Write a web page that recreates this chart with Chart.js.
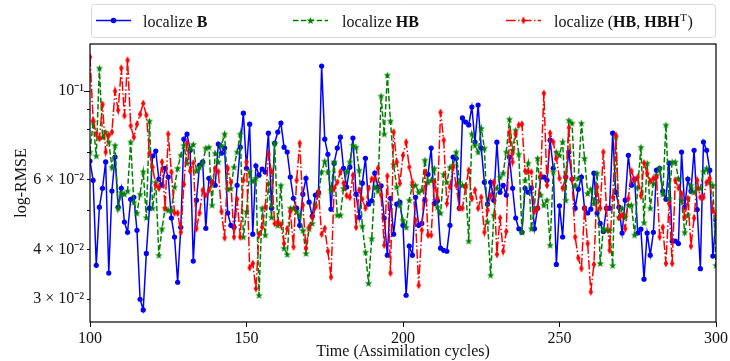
<!DOCTYPE html>
<html>
<head>
<meta charset="utf-8">
<script src="https://cdn.jsdelivr.net/npm/chart.js@4.4.1/dist/chart.umd.min.js"></script>
<style>
  html, body { margin: 0; padding: 0; background: #fff; }
  canvas { display: block; }
</style>
</head>
<body>
<canvas id="rmse-chart" width="730" height="361"></canvas>
<script>
// ── DATA (log-RMSE per assimilation cycle) ───────────────────────────
const FIRST_CYCLE = 100;

const locB = [
  0.0667, 0.0597, 0.0365, 0.0511, 0.0570, 0.0664, 0.0349, 0.0561, 0.0683, 0.0511,
  0.0570, 0.0469, 0.0442, 0.0535, 0.0541, 0.0447, 0.0300, 0.0282, 0.0391, 0.0508,
  0.0687, 0.0707, 0.0601, 0.0580, 0.0640, 0.0608, 0.0480, 0.0430, 0.0331, 0.0455,
  0.0757, 0.0780, 0.0710, 0.0374, 0.0532, 0.0652, 0.0664, 0.0452, 0.0604, 0.0590,
  0.0580, 0.0736, 0.0698, 0.0719, 0.0494, 0.0460, 0.0455, 0.0580, 0.0723, 0.0880,
  0.0640, 0.0826, 0.0437, 0.0649, 0.0615, 0.0637, 0.0626, 0.0784, 0.0508, 0.0740,
  0.0789, 0.0831, 0.0723, 0.0703, 0.0608, 0.0538, 0.0508, 0.0460, 0.0551, 0.0604,
  0.0526, 0.0485, 0.0548, 0.0557, 0.1156, 0.0757, 0.0694, 0.0505, 0.0659, 0.0719,
  0.0766, 0.0640, 0.0574, 0.0644, 0.0762, 0.0551, 0.0482, 0.0587, 0.0678, 0.0520,
  0.0530, 0.0622, 0.0574, 0.0578, 0.0480, 0.0387, 0.0538, 0.0437, 0.0520, 0.0526,
  0.0460, 0.0307, 0.0408, 0.0387, 0.0541, 0.0460, 0.0465, 0.0532, 0.0618, 0.0719,
  0.0522, 0.0530, 0.0403, 0.0398, 0.0396, 0.0460, 0.0683, 0.0678, 0.0508, 0.0856,
  0.0836, 0.0822, 0.0912, 0.0745, 0.0922, 0.0719, 0.0590, 0.0520, 0.0590, 0.0532,
  0.0744, 0.0557, 0.0580, 0.0548, 0.0683, 0.0570, 0.0480, 0.0451, 0.0442, 0.0570,
  0.0557, 0.0571, 0.0451, 0.0508, 0.0608, 0.0608, 0.0597, 0.0753, 0.0640, 0.0367,
  0.0515, 0.0430, 0.0608, 0.0703, 0.0601, 0.0508, 0.0567, 0.0608, 0.0508, 0.0494,
  0.0505, 0.0622, 0.0494, 0.0465, 0.0444, 0.0508, 0.0508, 0.0784, 0.0557, 0.0511,
  0.0440, 0.0532, 0.0690, 0.0580, 0.0601, 0.0440, 0.0450, 0.0337, 0.0440, 0.0387,
  0.0442, 0.0633, 0.0640, 0.0561, 0.0535, 0.0659, 0.0420, 0.0420, 0.0414, 0.0703,
  0.0511, 0.0601, 0.0561, 0.0710, 0.0504, 0.0358, 0.0745, 0.0710, 0.0633, 0.0385,
  0.0474
];

const locHB = [
  0.0703, 0.0836, 0.0687, 0.1142, 0.0766, 0.0789, 0.0745, 0.0644, 0.0731, 0.0508,
  0.0556, 0.0551, 0.0561, 0.0745, 0.0526, 0.0494, 0.0551, 0.0627, 0.0481, 0.0841,
  0.0508, 0.0590, 0.0387, 0.0451, 0.0508, 0.0502, 0.0502, 0.0574, 0.0640, 0.0690,
  0.0731, 0.0659, 0.0719, 0.0735, 0.0630, 0.0644, 0.0659, 0.0719, 0.0723, 0.0517,
  0.0698, 0.0664, 0.0731, 0.0780, 0.0567, 0.0570, 0.0644, 0.0703, 0.0780, 0.0430,
  0.0498, 0.0627, 0.0594, 0.0604, 0.0307, 0.0508, 0.0435, 0.0587, 0.0482, 0.0740,
  0.0460, 0.0580, 0.0403, 0.0389, 0.0508, 0.0508, 0.0498, 0.0488, 0.0447, 0.0391,
  0.0451, 0.0465, 0.0517, 0.0548, 0.0627, 0.0667, 0.0626, 0.0564, 0.0664, 0.0488,
  0.0488, 0.0570, 0.0627, 0.0664, 0.0731, 0.0723, 0.0633, 0.0458, 0.0394, 0.0329,
  0.0426, 0.0574, 0.0561, 0.0972, 0.0780, 0.1097, 0.0841, 0.0654, 0.0574, 0.0517,
  0.0474, 0.0455, 0.0532, 0.0580, 0.0580, 0.0557, 0.0564, 0.0671, 0.0590, 0.0597,
  0.0640, 0.0511, 0.0494, 0.0618, 0.0590, 0.0644, 0.0651, 0.0703, 0.0590, 0.0580,
  0.0580, 0.0420, 0.0780, 0.0731, 0.0703, 0.0806, 0.0719, 0.0469, 0.0345, 0.0488,
  0.0570, 0.0608, 0.0622, 0.0703, 0.0850, 0.0710, 0.0798, 0.0694, 0.0442, 0.0597,
  0.0659, 0.0451, 0.0508, 0.0678, 0.0548, 0.0517, 0.0532, 0.0410, 0.0627, 0.0703,
  0.0690, 0.0745, 0.0532, 0.0845, 0.0831, 0.0578, 0.0604, 0.0831, 0.0678, 0.0553,
  0.0567, 0.0522, 0.0622, 0.0369, 0.0451, 0.0447, 0.0447, 0.0365, 0.0766, 0.0482,
  0.0508, 0.0482, 0.0517, 0.0517, 0.0435, 0.0574, 0.0723, 0.0467, 0.0659, 0.0508,
  0.0587, 0.0615, 0.0640, 0.0551, 0.0822, 0.0537, 0.0664, 0.0664, 0.0604, 0.0532,
  0.0442, 0.0488, 0.0580, 0.0557, 0.0570, 0.0570, 0.0627, 0.0640, 0.0590, 0.0580,
  0.0365
];

const locHBHT = [
  0.1218, 0.0845, 0.0780, 0.0760, 0.0926, 0.0703, 0.0775, 0.0789, 0.1000, 0.0896,
  0.1142, 0.0867, 0.1196, 0.0818, 0.0766, 0.0826, 0.0874, 0.0931, 0.0870, 0.0698,
  0.0644, 0.0580, 0.0570, 0.0664, 0.0508, 0.0780, 0.0626, 0.0494, 0.0494, 0.0442,
  0.0583, 0.0740, 0.0630, 0.0659, 0.0451, 0.0494, 0.0564, 0.0548, 0.0564, 0.0590,
  0.0640, 0.0627, 0.0498, 0.0428, 0.0640, 0.0590, 0.0430, 0.0535, 0.0430, 0.0597,
  0.0664, 0.0360, 0.0369, 0.0319, 0.0437, 0.0455, 0.0511, 0.0694, 0.0627, 0.0465,
  0.0469, 0.0462, 0.0414, 0.0451, 0.0498, 0.0406, 0.0597, 0.0740, 0.0517, 0.0403,
  0.0455, 0.0482, 0.0511, 0.0557, 0.0437, 0.0452, 0.0396, 0.0341, 0.0570, 0.0590,
  0.0627, 0.0587, 0.0546, 0.0541, 0.0615, 0.0455, 0.0564, 0.0535, 0.0508, 0.0570,
  0.0601, 0.0601, 0.0640, 0.0548, 0.0410, 0.0612, 0.0349, 0.0789, 0.0664, 0.0587,
  0.0690, 0.0744, 0.0644, 0.0590, 0.0474, 0.0325, 0.0447, 0.0626, 0.0435, 0.0435,
  0.0590, 0.0538, 0.0884, 0.0753, 0.0522, 0.0574, 0.0644, 0.0580, 0.0508, 0.0508,
  0.0574, 0.0633, 0.0537, 0.0564, 0.0508, 0.0541, 0.0442, 0.0502, 0.0546, 0.0590,
  0.0389, 0.0480, 0.0396, 0.0444, 0.0789, 0.0664, 0.0780, 0.0822, 0.0826, 0.0630,
  0.0627, 0.0626, 0.0498, 0.0508, 0.0615, 0.0987, 0.0580, 0.0784, 0.0745, 0.0678,
  0.0604, 0.0570, 0.0608, 0.0809, 0.0601, 0.0430, 0.0381, 0.0358, 0.0508, 0.0414,
  0.0313, 0.0367, 0.0574, 0.0508, 0.0703, 0.0508, 0.0398, 0.0541, 0.0775, 0.0481,
  0.0488, 0.0451, 0.0537, 0.0630, 0.0597, 0.0608, 0.0546, 0.0659, 0.0622, 0.0594,
  0.0604, 0.0608, 0.0430, 0.0455, 0.0369, 0.0522, 0.0369, 0.0597, 0.0571, 0.0553,
  0.0482, 0.0537, 0.0408, 0.0480, 0.0597, 0.0541, 0.0541, 0.0590, 0.0604, 0.0500,
  0.0488
];

const xTicks = [100, 150, 200, 250, 300];
const yTicks = [0.03, 0.04, 0.05, 0.06, 0.07, 0.08, 0.09, 0.1];
const yTickLabels = { 0.03: '3 × 10⁻²', 0.04: '4 × 10⁻²', 0.06: '6 × 10⁻²', 0.1: '10⁻¹' };

// ── STYLE ────────────────────────────────────────────────────────────
const SERIF = '"Liberation Serif", "Times New Roman", serif';
const BLUE = '#0000ff', GREEN = '#008000', RED = '#ff0000';
const DASH_HB = [5.5, 2.4];
const DASH_HBHT = [9.6, 2.4, 1.5, 2.4];

function markerCanvas(w, h, draw) {
  const c = document.createElement('canvas');
  c.width = w; c.height = h;
  draw(c.getContext('2d'), w, h);
  return c;
}

const starMarker = markerCanvas(9, 9, (g, w, h) => {
  g.fillStyle = GREEN;
  g.beginPath();
  for (let k = 0; k < 10; k++) {
    const r = k % 2 === 0 ? 3.9 : 1.6;
    const a = -Math.PI / 2 + k * Math.PI / 5;
    g.lineTo(w / 2 + r * Math.cos(a), h / 2 + 0.3 + r * Math.sin(a));
  }
  g.closePath();
  g.fill();
});

const diamondMarker = markerCanvas(6, 9, (g, w, h) => {
  g.fillStyle = RED;
  g.beginPath();
  g.moveTo(w / 2, 0.5);
  g.lineTo(w - 0.8, h / 2);
  g.lineTo(w / 2, h - 0.5);
  g.lineTo(0.8, h / 2);
  g.closePath();
  g.fill();
});

const toXY = arr => arr.map((v, i) => ({ x: FIRST_CYCLE + i, y: v }));

// ── PLUGINS: frame + mathtext-like legend ───────────────────────────
const framePlugin = {
  id: 'frame',
  afterDatasetsDraw(chart) {
    const { ctx, chartArea: a, scales } = chart;
    ctx.save();
    ctx.strokeStyle = '#000';
    ctx.lineWidth = 1.2;
    ctx.strokeRect(a.left, a.top, a.right - a.left, a.bottom - a.top);
    // longer major tick for the decade
    const yMaj = Math.round(scales.y.getPixelForValue(0.1)) + 0.5;
    ctx.lineWidth = 1;
    ctx.beginPath();
    ctx.moveTo(a.left - 6, yMaj); ctx.lineTo(a.left, yMaj);
    ctx.stroke();
    ctx.restore();
  }
};

const legendItems = [
  { color: BLUE, dash: [], marker: 'circle', lineX: 96, textX: 143,
    parts: [['localize ', ''], ['B', 'bold']] },
  { color: GREEN, dash: DASH_HB, marker: starMarker, lineX: 293, textX: 342,
    parts: [['localize ', ''], ['HB', 'bold']] },
  { color: RED, dash: DASH_HBHT, marker: diamondMarker, lineX: 506, textX: 554,
    parts: [['localize (', ''], ['HB', 'bold'], [', ', ''], ['HBH', 'bold'], ['T', 'sup'], [')', '']] },
];

const legendPlugin = {
  id: 'mplLegend',
  afterDraw(chart) {
    const ctx = chart.ctx;
    const left = chart.chartArea.left + 1, right = chart.chartArea.right - 1;
    const top = 4, h = 33, cy = top + h / 2;
    ctx.save();
    ctx.beginPath();
    ctx.roundRect(left + 0.5, top + 0.5, right - left, h, 3);
    ctx.fillStyle = 'rgba(255,255,255,0.8)';
    ctx.fill();
    ctx.strokeStyle = '#d6d6d6';
    ctx.lineWidth = 1;
    ctx.stroke();

    legendItems.forEach(it => {
      ctx.strokeStyle = it.color;
      ctx.lineWidth = 1.5;
      ctx.setLineDash(it.dash);
      ctx.beginPath();
      ctx.moveTo(it.lineX, cy); ctx.lineTo(it.lineX + 35, cy);
      ctx.stroke();
      ctx.setLineDash([]);
      const mx = it.lineX + 17.5;
      if (it.marker === 'circle') {
        ctx.fillStyle = it.color;
        ctx.beginPath(); ctx.arc(mx, cy, 2.8, 0, Math.PI * 2); ctx.fill();
      } else {
        ctx.drawImage(it.marker, mx - it.marker.width / 2, cy - it.marker.height / 2);
      }
      let x = it.textX;
      ctx.fillStyle = '#111';
      ctx.textBaseline = 'alphabetic';
      it.parts.forEach(([t, kind]) => {
        if (kind === 'sup') {
          ctx.font = `11px ${SERIF}`;
          ctx.fillText(t, x + 0.5, cy + 0);
          x += ctx.measureText(t).width + 1;
        } else {
          ctx.font = `${kind === 'bold' ? 'bold ' : ''}16px ${SERIF}`;
          ctx.fillText(t, x, cy + 6);
          x += ctx.measureText(t).width;
        }
      });
    });
    ctx.restore();
  }
};

// ── CHART ────────────────────────────────────────────────────────────
const tickFont = { family: SERIF, size: 16 };

new Chart(document.getElementById('rmse-chart'), {
  type: 'line',
  data: {
    datasets: [
      {
        label: 'localize B',
        data: toXY(locB),
        borderColor: BLUE, backgroundColor: BLUE,
        borderWidth: 1.5,
        pointStyle: 'circle', pointRadius: 2.6, pointBorderWidth: 0,
        order: 3,
      },
      {
        label: 'localize HB',
        data: toXY(locHB),
        borderColor: GREEN, backgroundColor: GREEN,
        borderWidth: 1.5, borderDash: DASH_HB,
        pointStyle: starMarker, pointRadius: 4,
        order: 2,
      },
      {
        label: 'localize (HB, HBHᵀ)',
        data: toXY(locHBHT),
        borderColor: RED, backgroundColor: RED,
        borderWidth: 1.5, borderDash: DASH_HBHT,
        pointStyle: diamondMarker, pointRadius: 4,
        order: 1,
      },
    ],
  },
  options: {
    responsive: false,
    animation: false,
    devicePixelRatio: 1,
    layout: { padding: { left: 4, right: 13, top: 44, bottom: 0 } },
    plugins: { legend: { display: false }, tooltip: { enabled: false } },
    elements: { line: { tension: 0 } },
    scales: {
      x: {
        type: 'linear', min: 100, max: 300,
        afterBuildTicks: s => { s.ticks = xTicks.map(v => ({ value: v })); },
        afterFit: s => { s.height = 39; },
        ticks: { font: tickFont, color: '#111', padding: 2, maxRotation: 0, autoSkip: false },
        grid: { drawOnChartArea: false, drawTicks: true, tickLength: 5, color: '#000' },
        border: { display: false },
        title: { display: true, text: 'Time (Assimilation cycles)', font: tickFont, color: '#111',
                 padding: { top: 0, bottom: 0 } },
      },
      y: {
        type: 'logarithmic', min: 0.0263, max: 0.1313,
        afterBuildTicks: s => { s.ticks = yTicks.map(v => ({ value: v })); },
        afterFit: s => { s.width = 86; },
        ticks: { font: tickFont, color: '#111', padding: 3, autoSkip: false,
                 callback: v => yTickLabels[v] || '' },
        grid: { drawOnChartArea: false, drawTicks: true, tickLength: 3, color: '#000' },
        border: { display: false },
        title: { display: true, text: 'log-RMSE', font: tickFont, color: '#111',
                 padding: { top: 8, bottom: 0 } },
      },
    },
  },
  plugins: [framePlugin, legendPlugin],
});
</script>
</body>
</html>
